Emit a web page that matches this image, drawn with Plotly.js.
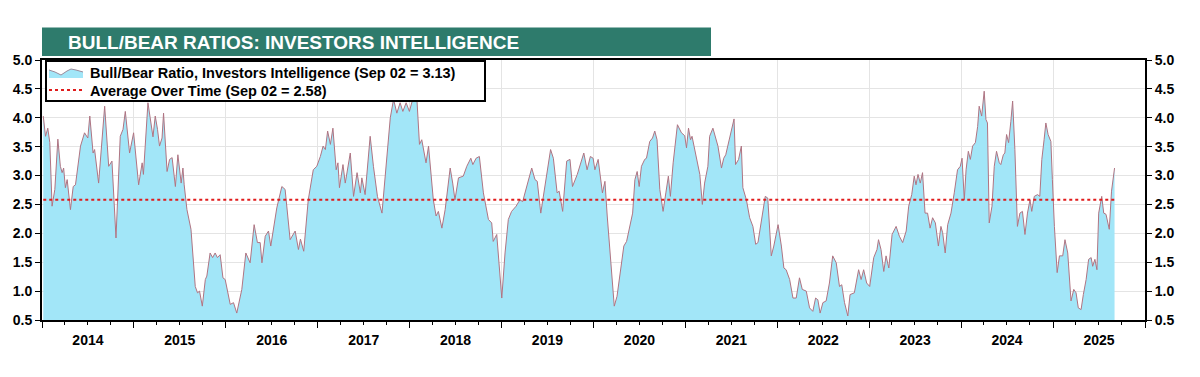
<!DOCTYPE html>
<html>
<head>
<meta charset="utf-8">
<script src="https://cdn.plot.ly/plotly-3.0.1.min.js"></script>
<style>html,body{margin:0;padding:0;background:#fff;}#chart{width:1200px;height:377px;}</style>
</head>
<body>
<div id="chart"></div>
<script>
const chartTitle = "BULL/BEAR RATIOS: INVESTORS INTELLIGENCE";
const seriesName = "Bull/Bear Ratio, Investors Intelligence (Sep 02 = 3.13)";
const avgName = "Average Over Time (Sep 02 = 2.58)";

const dates = [
"2014-01-06","2014-01-15","2014-01-24","2014-02-01","2014-02-10","2014-02-21","2014-03-05","2014-03-15","2014-03-22","2014-03-28",
"2014-04-04","2014-04-11","2014-04-24","2014-05-05","2014-05-14","2014-06-03","2014-06-19","2014-07-02","2014-07-10","2014-07-23",
"2014-07-29","2014-08-14","2014-09-07","2014-09-23","2014-10-06","2014-10-22","2014-11-08","2014-11-19","2014-11-28","2014-12-15",
"2014-12-31","2015-01-07","2015-01-20","2015-02-03","2015-02-08","2015-02-26","2015-03-18","2015-03-27","2015-04-05","2015-04-13",
"2015-04-23","2015-04-29","2015-05-13","2015-05-23","2015-06-02","2015-06-15","2015-06-25","2015-07-08","2015-07-15","2015-07-20",
"2015-07-31","2015-08-16","2015-09-02","2015-09-11","2015-09-19","2015-09-30","2015-10-12","2015-10-18","2015-10-31","2015-11-10",
"2015-11-20","2015-11-29","2015-12-10","2015-12-21","2015-12-30","2016-01-19","2016-02-01","2016-02-14","2016-02-24","2016-03-05",
"2016-03-21","2016-03-31","2016-04-07","2016-04-23","2016-05-06","2016-05-17","2016-05-24","2016-06-06","2016-06-19","2016-06-28",
"2016-07-22","2016-08-11","2016-08-24","2016-09-13","2016-10-03","2016-10-16","2016-10-24","2016-11-06","2016-11-24","2016-12-14",
"2016-12-28","2017-01-11","2017-01-22","2017-01-31","2017-02-09","2017-02-20","2017-03-02","2017-03-15","2017-03-22","2017-03-28",
"2017-04-11","2017-04-20","2017-05-10","2017-05-23","2017-06-06","2017-06-19","2017-06-25","2017-07-08","2017-07-28","2017-08-10",
"2017-08-26","2017-09-13","2017-10-03","2017-10-16","2017-10-29","2017-11-11","2017-11-24","2017-12-05","2017-12-18","2017-12-31",
"2018-01-16","2018-01-30","2018-02-09","2018-02-18","2018-03-07","2018-03-17","2018-04-05","2018-04-16","2018-04-25","2018-05-09",
"2018-05-22","2018-06-11","2018-06-21","2018-06-30","2018-07-14","2018-08-02","2018-08-16","2018-09-01","2018-09-09","2018-09-22",
"2018-10-05","2018-10-21","2018-11-10","2018-11-23","2018-11-29","2018-12-13","2019-01-02","2019-01-15","2019-01-28","2019-02-10",
"2019-02-28","2019-03-15","2019-03-26","2019-04-04","2019-04-17","2019-05-01","2019-05-14","2019-05-23","2019-06-06","2019-06-23",
"2019-07-15","2019-07-26","2019-08-10","2019-08-18","2019-09-01","2019-09-17","2019-09-30","2019-10-10","2019-10-29","2019-11-24",
"2019-12-07","2019-12-20","2019-12-31","2020-01-07","2020-01-20","2020-02-06","2020-02-16","2020-02-25","2020-03-09","2020-03-24",
"2020-04-04","2020-04-18","2020-05-01","2020-05-12","2020-05-25","2020-06-05","2020-06-14","2020-06-23","2020-07-01","2020-07-10",
"2020-07-23","2020-07-30","2020-08-12","2020-08-23","2020-09-01","2020-09-10","2020-09-21","2020-10-04","2020-10-15","2020-10-25",
"2020-11-02","2020-11-13","2020-11-30","2020-12-16","2020-12-29","2021-01-05","2021-01-13","2021-01-21","2021-01-27","2021-02-07",
"2021-02-16","2021-02-27","2021-03-09","2021-03-18","2021-03-31","2021-04-07","2021-04-20","2021-05-01","2021-05-10","2021-05-24",
"2021-06-02","2021-06-10","2021-06-19","2021-07-02","2021-07-13","2021-07-19","2021-07-31","2021-08-11","2021-08-17","2021-08-31",
"2021-09-13","2021-09-26","2021-10-07","2021-10-16","2021-10-29","2021-11-14","2021-11-24","2021-12-08","2021-12-18","2022-01-04",
"2022-01-17","2022-01-27","2022-02-05","2022-02-19","2022-03-04","2022-03-17","2022-03-30","2022-04-10","2022-04-26","2022-05-09",
"2022-05-22","2022-06-02","2022-06-11","2022-06-20","2022-07-01","2022-07-14","2022-07-27","2022-08-09","2022-08-23","2022-09-05",
"2022-09-14","2022-09-25","2022-10-08","2022-10-17","2022-11-03","2022-11-20","2022-11-30","2022-12-10","2022-12-22","2023-01-03",
"2023-01-19","2023-02-01","2023-02-07","2023-02-17","2023-02-28","2023-03-09","2023-03-20","2023-04-02","2023-04-18","2023-05-01",
"2023-05-14","2023-05-28","2023-06-07","2023-06-19","2023-06-29","2023-07-06","2023-07-14","2023-07-23","2023-08-01","2023-08-11",
"2023-08-21","2023-08-31","2023-09-10","2023-09-21","2023-10-03","2023-10-13","2023-10-20","2023-10-30","2023-11-09","2023-11-22",
"2023-12-05","2023-12-18","2023-12-29","2024-01-05","2024-01-14","2024-01-21","2024-01-30","2024-02-07","2024-02-16","2024-02-27",
"2024-03-07","2024-03-13","2024-03-23","2024-04-02","2024-04-09","2024-04-15","2024-04-22","2024-05-03","2024-05-12","2024-05-21",
"2024-06-01","2024-06-07","2024-06-17","2024-06-23","2024-06-30","2024-07-08","2024-07-17","2024-07-24","2024-08-02","2024-08-12",
"2024-08-22","2024-09-01","2024-09-11","2024-09-21","2024-10-01","2024-10-08","2024-10-18","2024-10-31","2024-11-09","2024-11-17",
"2024-11-26","2024-12-03","2024-12-12","2024-12-23","2024-12-29","2025-01-06","2025-01-17","2025-01-26","2025-02-08","2025-02-17",
"2025-02-28","2025-03-13","2025-03-24","2025-04-02","2025-04-11","2025-04-22","2025-05-01","2025-05-12","2025-05-22","2025-06-01",
"2025-06-07","2025-06-16","2025-06-24","2025-07-01","2025-07-13","2025-07-21","2025-07-30","2025-08-12","2025-08-21","2025-09-02"
];

const ratio = [
4.03,3.68,3.82,3.57,2.47,2.76,3.63,3.16,3.05,3.13,
2.79,2.93,2.41,2.81,2.84,3.51,3.74,3.65,4.03,3.39,
3.45,2.87,4.20,3.16,3.25,1.92,3.68,3.80,4.11,3.39,
3.74,3.45,2.84,3.22,3.02,4.26,3.67,4.03,3.80,3.51,
3.65,4.08,3.07,3.28,3.31,2.81,3.36,2.87,3.13,2.84,
2.41,2.07,1.08,0.97,1.00,0.74,1.20,1.26,1.66,1.58,
1.66,1.58,1.63,1.23,1.20,0.77,0.80,0.62,0.80,1.03,
1.66,1.55,1.49,2.15,1.84,1.84,1.49,1.95,2.04,1.78,
2.44,2.81,2.76,1.89,2.04,1.72,1.90,1.69,2.58,3.10,
3.16,3.33,3.51,3.45,3.77,3.54,3.82,3.10,3.22,2.79,
3.19,2.87,3.39,2.64,3.05,2.70,2.96,2.67,3.68,3.16,
2.64,2.35,3.33,4.00,4.32,4.08,4.26,4.11,4.26,4.11,
4.37,4.31,3.54,3.62,3.22,3.51,2.58,2.30,2.38,2.09,
2.41,3.13,2.87,2.58,2.96,2.99,3.16,3.30,3.19,3.30,
3.33,2.70,2.24,2.18,1.86,1.98,0.88,1.66,2.24,2.38,
2.47,2.58,2.55,2.70,2.87,3.13,2.93,2.90,2.35,2.81,
3.45,3.30,2.70,2.73,2.38,3.25,3.28,2.81,3.02,3.39,
3.10,3.33,3.30,3.10,3.28,2.70,2.90,2.30,1.55,0.74,
0.91,1.32,1.78,1.86,2.12,2.35,2.93,3.07,2.81,3.16,
3.28,3.30,3.59,3.65,3.77,3.62,2.76,2.38,2.70,2.99,
2.64,3.22,3.88,3.74,3.69,3.48,3.82,3.62,3.68,3.45,
3.25,3.02,2.50,2.87,3.16,3.68,3.82,3.62,3.51,3.13,
3.30,3.36,3.54,3.77,3.98,3.19,3.28,3.51,2.79,2.58,
2.27,2.12,1.81,1.84,2.24,2.64,2.61,1.61,1.78,2.15,
1.78,1.40,1.37,1.20,0.88,0.88,1.23,1.03,1.00,0.71,
0.65,0.88,0.85,0.62,0.80,0.83,1.14,1.61,1.49,1.08,
1.11,0.80,0.57,0.94,0.97,1.37,1.20,1.37,1.14,1.08,
1.58,1.72,1.89,1.72,1.34,1.61,1.40,1.98,2.12,1.95,
1.84,2.04,2.47,2.67,2.99,2.84,3.02,2.87,3.05,2.35,
2.35,2.09,2.27,2.18,1.78,2.12,2.01,1.66,2.15,2.35,
2.70,3.10,3.16,3.30,2.58,3.10,3.42,3.28,3.51,3.57,
3.85,4.20,4.03,4.46,3.97,3.91,2.18,2.47,3.16,3.42,
3.22,3.19,3.36,3.39,3.71,3.57,3.94,4.29,3.45,2.12,
2.35,2.38,1.98,2.35,2.58,2.38,2.64,2.67,2.64,3.28,
3.62,3.91,3.71,3.59,2.93,2.12,1.32,1.61,1.61,1.89,
1.66,0.83,1.03,0.97,0.71,0.68,0.94,1.20,1.55,1.58,
1.43,1.55,1.37,2.35,2.64,2.35,2.33,2.07,2.73,3.13
];

const avgDates = ["2014-01-06", "2025-09-02"];
const avgValues = [2.58, 2.58];

const yTicks = [0.5, 1.0, 1.5, 2.0, 2.5, 3.0, 3.5, 4.0, 4.5, 5.0];

const FONT = "Liberation Sans, Arial, Helvetica, sans-serif";
const AREA_FILL = "#a2e6f8";
const AREA_LINE = "#b07482";
const AVG_COLOR = "#e01b1b";

// page geometry (pixels) -> paper coordinates
const W = 1200, H = 377, M = {l: 42, r: 55, t: 60, b: 57};
const PW = W - M.l - M.r, PH = H - M.t - M.b;
const px = x => (x - M.l) / PW;
const py = y => (H - M.b - y) / PH;

const traces = [
  {
    x: dates, y: ratio, type: "scatter", mode: "lines",
    name: seriesName,
    fill: "tozeroy", fillcolor: AREA_FILL,
    line: {color: AREA_LINE, width: 1},
    yaxis: "y"
  },
  {
    x: avgDates, y: avgValues, type: "scatter", mode: "lines",
    name: avgName,
    line: {color: AVG_COLOR, width: 2, dash: "dot"},
    yaxis: "y2"
  }
];

const yCommon = {
  range: [0.5, 5.0],
  tickvals: yTicks,
  tickformat: ".1f",
  ticks: "outside", ticklen: 5, tickwidth: 1, tickcolor: "#000",
  tickfont: {family: FONT, size: 14, color: "#000", weight: "bold"},
  showline: true, linecolor: "#000", linewidth: 2,
  zeroline: false, fixedrange: true
};

// legend drawn as shapes + text in the top-left corner of the plot
const areaIcon = [[49,70],[55,72],[61,75],[67,71],[71,69],[76,70],[83,72]];
const iconPath = (pts, close) => {
  let s = "M " + pts.map(p => px(p[0]) + "," + py(p[1])).join(" L ");
  if (close) s += " L " + px(83) + "," + py(78) + " L " + px(49) + "," + py(78) + " Z";
  return s;
};

const layout = {
  width: W, height: H,
  margin: M,
  paper_bgcolor: "#fff", plot_bgcolor: "#fff",
  showlegend: false,
  xaxis: {
    type: "date",
    range: ["2014-01-01", "2026-01-01"],
    dtick: "M12", tick0: "2014-01-01",
    tickformat: "%Y", ticklabelmode: "period",
    ticks: "outside", ticklen: 6, tickwidth: 1, tickcolor: "#000",
    minor: {dtick: "M3", ticks: "outside", ticklen: 3, tickcolor: "#000", showgrid: false},
    tickfont: {family: FONT, size: 14, color: "#000", weight: "bold"},
    showgrid: true, gridcolor: "#e4e4e4", gridwidth: 1,
    showline: true, linecolor: "#000", linewidth: 2, mirror: true,
    zeroline: false, fixedrange: true
  },
  yaxis: Object.assign({}, yCommon, {side: "left", showgrid: true, gridcolor: "#e4e4e4", gridwidth: 1, mirror: true}),
  yaxis2: Object.assign({}, yCommon, {side: "right", overlaying: "y", showgrid: false}),
  shapes: [
    {type: "rect", xref: "paper", yref: "paper", x0: px(42), x1: px(711), y0: py(56), y1: py(27.5),
     fillcolor: "#2e7b6c", line: {width: 0}, layer: "above"},
    {type: "rect", xref: "paper", yref: "paper", x0: px(46), x1: px(485), y0: py(101), y1: py(61),
     fillcolor: "#fff", line: {color: "#000", width: 2}, layer: "above"},
    {type: "path", xref: "paper", yref: "paper", path: iconPath(areaIcon, true),
     fillcolor: AREA_FILL, line: {width: 0}, layer: "above"},
    {type: "path", xref: "paper", yref: "paper", path: iconPath(areaIcon, false),
     line: {color: "#9a8a9a", width: 1}, layer: "above"},
    {type: "line", xref: "paper", yref: "paper", x0: px(49), x1: px(83), y0: py(90), y1: py(90),
     line: {color: AVG_COLOR, width: 2, dash: "dot"}, layer: "above"}
  ],
  annotations: [
    {text: chartTitle, xref: "paper", yref: "paper", x: px(66), y: py(42),
     xanchor: "left", yanchor: "middle", showarrow: false,
     font: {family: FONT, size: 19, color: "#fff", weight: "bold"}},
    {text: seriesName, xref: "paper", yref: "paper", x: px(88), y: py(73),
     xanchor: "left", yanchor: "middle", showarrow: false,
     font: {family: FONT, size: 14.5, color: "#000", weight: "bold"}},
    {text: avgName, xref: "paper", yref: "paper", x: px(88), y: py(90.5),
     xanchor: "left", yanchor: "middle", showarrow: false,
     font: {family: FONT, size: 14.5, color: "#000", weight: "bold"}}
  ]
};

Plotly.newPlot("chart", traces, layout, {displayModeBar: false, staticPlot: true});
</script>
</body>
</html>
